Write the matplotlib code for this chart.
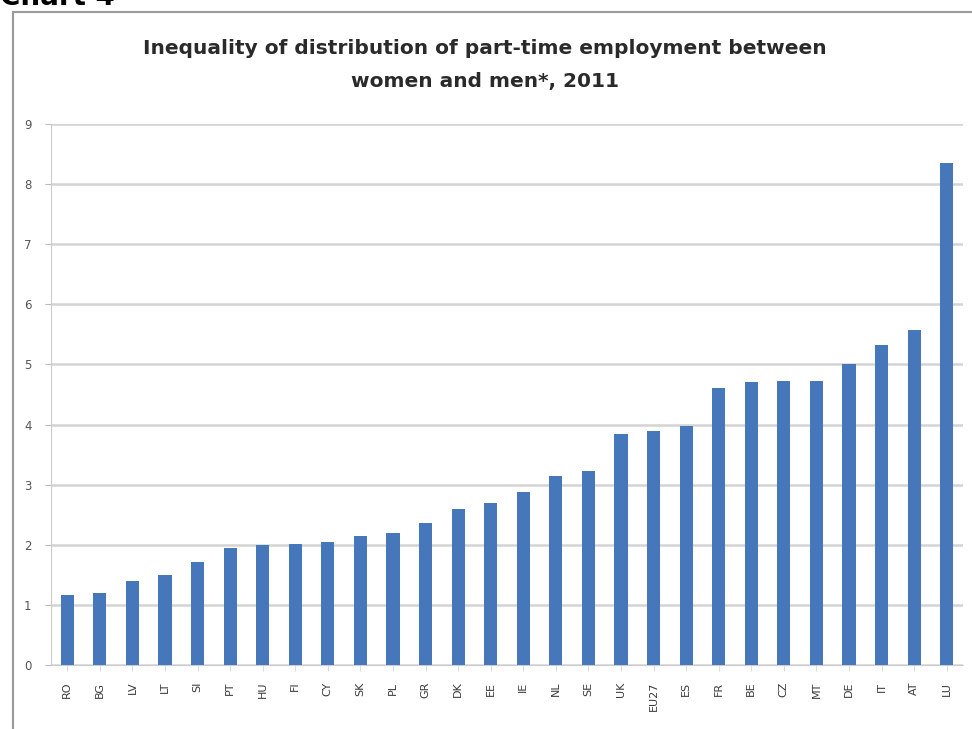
import matplotlib.pyplot as plt
import matplotlib.patches as patches

countries = ['RO', 'BG', 'LV', 'LT', 'SI', 'PT', 'HU', 'FI', 'CY', 'SK', 'PL', 'GR', 'DK', 'EE',
             'IE', 'NL', 'SE', 'UK', 'EU27', 'ES', 'FR', 'BE', 'CZ', 'MT', 'DE', 'IT', 'AT', 'LU']
ratio = [1.17, 1.2, 1.4, 1.5, 1.72, 1.95, 2.0, 2.02, 2.05, 2.15, 2.2, 2.37, 2.6, 2.7,
         2.88, 3.15, 3.22, 3.85, 3.9, 3.98, 4.6, 4.7, 4.72, 4.72, 5.0, 5.33, 5.57, 8.35]
yticks = list(range(0, 10))

fig = plt.figure(figsize=(9.72, 7.29), dpi=100)

# outer frame of the chart box
fig.patches.append(patches.Rectangle((13 / 972, -0.05), 1.0, 1 - 12 / 729 + 0.05,
                                     transform=fig.transFigure, fill=False,
                                     edgecolor='#9a9a9a', linewidth=1.5))

fig.text(0.0, 1 - 5 / 729, 'Chart 4', fontsize=20, fontweight='bold', va='baseline',
         family='DejaVu Sans')

fig.text(0.499, 1 - 48 / 729, 'Inequality of distribution of part-time employment between',
         ha='center', va='center', fontsize=14.5, fontweight='bold', color='#2a2a2a',
         family='DejaVu Sans')
fig.text(0.499, 1 - 81 / 729, 'women and men*, 2011',
         ha='center', va='center', fontsize=14.5, fontweight='bold', color='#2a2a2a',
         family='DejaVu Sans')

ax = fig.add_axes([51 / 972, 1 - 665 / 729, (963 - 51) / 972, (665 - 124) / 729])
x = range(len(countries))
ax.bar(x, ratio, width=0.4, color='#4677BA', zorder=3)

ax.set_xlim(-0.5, len(countries) - 0.5)
ax.set_ylim(0, 9)
ax.set_yticks(yticks)
ax.set_xticks(list(x))
ax.set_xticklabels(countries, rotation=90, fontsize=8, color='#3a3a3a')
ax.tick_params(axis='y', labelsize=8.5, colors='#555555', length=4, color='#bbbbbb', pad=10)
ax.tick_params(axis='x', length=4, color='#dddddd', pad=8)
ax.grid(axis='y', color='#d4d4d4', linewidth=1.8, zorder=0)
for s in ['top', 'right']:
    ax.spines[s].set_visible(False)
ax.spines['left'].set_color('#cccccc')
ax.spines['bottom'].set_color('#cccccc')

fig.savefig('out.png', dpi=100)
